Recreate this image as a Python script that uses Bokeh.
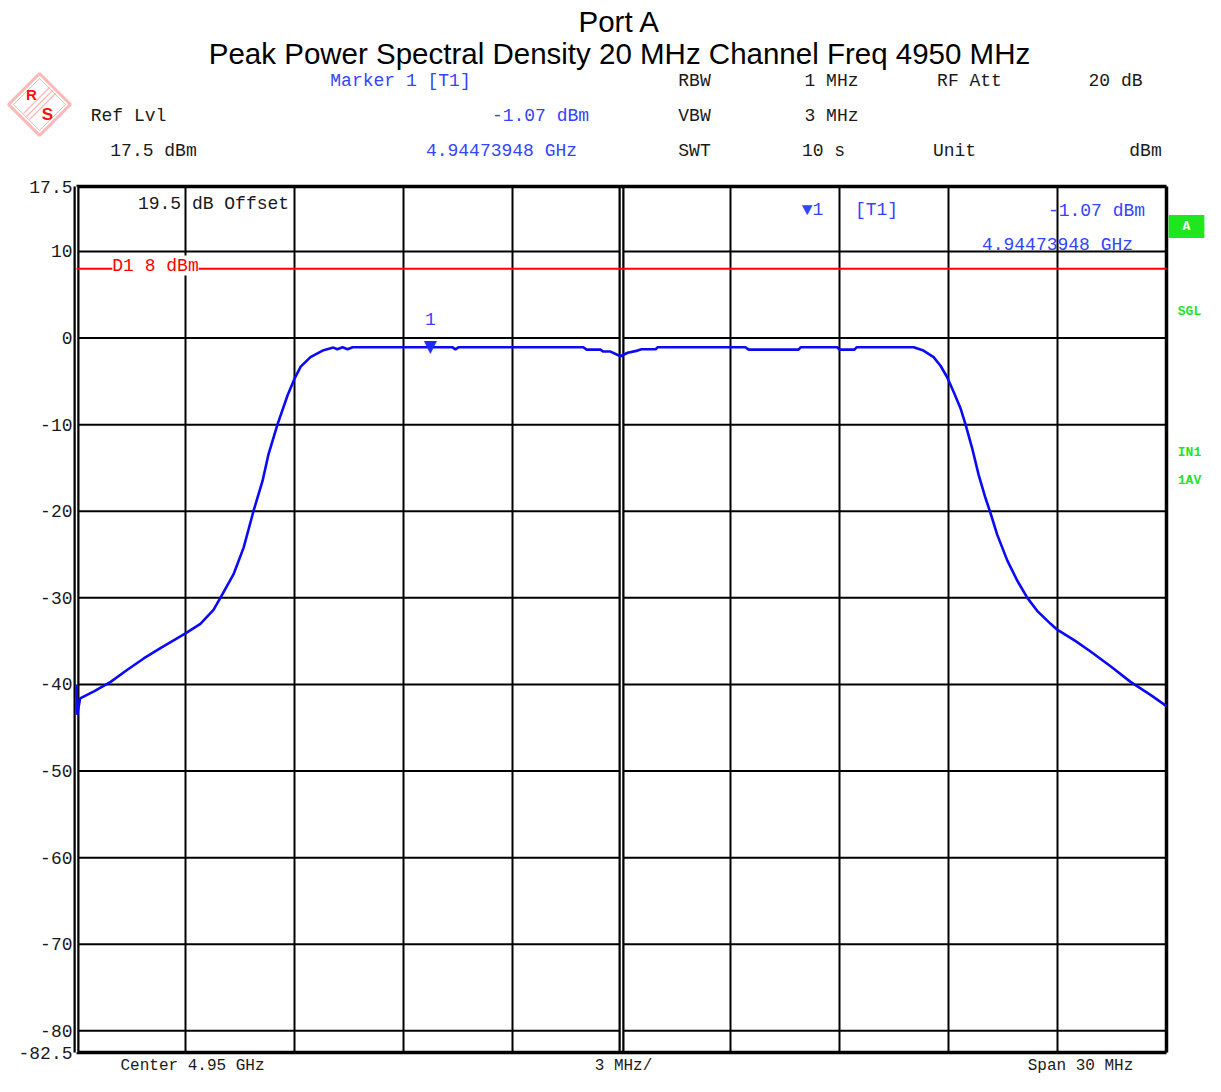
from bokeh.plotting import figure
from bokeh.models import FixedTicker, Label, PolyAnnotation, Range1d
from bokeh.embed import file_html
from bokeh.resources import INLINE
from bokeh.core.properties import value

# ---------------- data ----------------
title_line1 = "Port A"
title_line2 = "Peak Power Spectral Density 20 MHz Channel Freq 4950 MHz"
center_ghz = 4.95
span_mhz = 30
div_mhz = 3
ref_level = 17.5
y_bottom = -82.5
y_grid_levels = [10, 0, -10, -20, -30, -40, -50, -60, -70, -80]
offset_db = 19.5
d1_level = 8
marker_ghz = 4.94473948
marker_dbm = -1.07
rbw = "1 MHz"
vbw = "3 MHz"
swt = "10 s"
rf_att = "20 dB"
unit = "dBm"

# trace: frequency offset from centre (MHz) and level (dBm)
freq_offset_mhz = [
    -15.00, -14.98, -14.95, -14.90, -14.52, -14.06, -13.60, -13.15, -12.69,
    -12.00, -11.59, -11.23, -11.04, -10.68, -10.40, -10.13, -9.88, -9.72,
    -9.47, -9.19, -9.00, -8.83, -8.56, -8.20, -7.93, -7.82, -7.68, -7.54,
    -7.40, -5.26, -4.65, -4.57, -4.49, -1.05, -0.96, -0.58, -0.50, -0.30,
    -0.03, 0.17, 0.44, 0.55, 0.94, 0.99, 3.41, 3.50, 4.87, 4.93, 5.94,
    6.00, 6.41, 6.47, 8.04, 8.31, 8.59, 8.78, 8.96, 9.14, 9.33, 9.47,
    9.65, 9.83, 10.02, 10.14, 10.34, 10.62, 10.89, 11.17, 11.44, 11.81,
    11.97, 12.50, 12.91, 13.46, 14.01, 14.56, 15.00,
]
level_dbm = [
    -40.0, -43.5, -42.8, -41.6, -40.8, -39.7, -38.3, -37.0, -35.8,
    -34.1, -33.0, -31.4, -30.0, -27.3, -24.2, -20.0, -16.5, -13.5,
    -10.0, -6.6, -4.7, -3.3, -2.2, -1.4, -1.1, -1.3, -1.07, -1.3,
    -1.07, -1.07, -1.07, -1.3, -1.07, -1.07, -1.34, -1.34, -1.56, -1.56,
    -2.1, -1.7, -1.45, -1.3, -1.3, -1.07, -1.07, -1.34, -1.34, -1.07, -1.07,
    -1.34, -1.34, -1.07, -1.07, -1.45, -2.2, -3.2, -4.5, -6.2, -8.1, -10.0,
    -12.7, -15.8, -18.5, -20.0, -22.7, -25.7, -28.0, -30.0, -31.5, -33.0,
    -33.6, -35.0, -36.2, -37.9, -39.7, -41.2, -42.5,
]

# ---------------- layout ----------------
W, H = 1205, 1076                 # canvas
FL, FR, FT, FB = 76, 1166, 186, 1052   # diagram area on the canvas (px)
x0, x1 = -span_mhz / 2, span_mhz / 2
y0, y1 = y_bottom, ref_level
sx = (x1 - x0) / (FR - FL)
sy = (y1 - y0) / (FB - FT)

def X(px):
    return x0 + (px - FL) * sx
def Y(py):
    return y1 - (py - FT) * sy

p = figure(
    frame_width=W, frame_height=H,
    x_range=Range1d(X(0), X(W)), y_range=Range1d(Y(H), Y(0)),
    x_axis_location=None, y_axis_location="left",
    toolbar_location=None, output_backend="svg",
    min_border=0, background_fill_color="white", border_fill_color="white",
    outline_line_color=None,
)
p.xgrid.visible = False
p.ygrid.visible = False

# y axis drawn along the diagram's left edge
y_ticks = [ref_level] + y_grid_levels + [y_bottom]
ax = p.yaxis[0]
ax.fixed_location = x0
ax.bounds = (y0, y1)
ax.ticker = FixedTicker(ticks=y_ticks)
ax.major_label_overrides = {float(t): f"{t:g}" for t in y_ticks}
ax.major_tick_in = 0
ax.major_tick_out = 0
ax.minor_tick_in = 0
ax.minor_tick_out = 0
ax.axis_line_color = None
ax.major_label_standoff = 4
ax.major_label_text_font = "Liberation Mono"
ax.major_label_text_font_size = "18px"
ax.major_label_text_color = "#1a1a1a"

# grid
grid_x = [k * div_mhz for k in range(-4, 5) if k != 0]
p.segment(x0=grid_x, y0=[y0] * len(grid_x), x1=grid_x, y1=[y1] * len(grid_x),
          line_color="black", line_width=2)
p.segment(x0=[x0] * len(y_grid_levels), y0=y_grid_levels, x1=[x1] * len(y_grid_levels),
          y1=y_grid_levels, line_color="black", line_width=2)
# double centre line
p.segment(x0=[0], y0=[y0], x1=[0], y1=[y1], line_color="black", line_width=6)
p.segment(x0=[0], y0=[y0], x1=[0], y1=[y1], line_color="white", line_width=1.5)
# diagram border (left edge doubled)
p.segment(x0=[x0, x0, x1], y0=[y1, y0, y0], x1=[x1, x1, x1], y1=[y1, y0, y1],
          line_color="black", line_width=3.5)
p.segment(x0=[x0], y0=[y0], x1=[x0], y1=[y1], line_color="black", line_width=6)
p.segment(x0=[x0], y0=[y0], x1=[x0], y1=[y1], line_color="white", line_width=1.5)

# display line D1
p.segment(x0=[x0], y0=[d1_level], x1=[x1], y1=[d1_level], line_color="#ff0000", line_width=2)

# trace
p.line(freq_offset_mhz, level_dbm, line_color="#0a0af5", line_width=2.6)

# marker
mx = (marker_ghz - center_ghz) * 1000
p.text(x=[mx], y=[marker_dbm], text=["\u25BC"], text_align="center", text_baseline="alphabetic",
       y_offset=-1, text_font=value("DejaVu Sans"), text_font_size="17px", text_color="#1a2cff")
p.text(x=[mx], y=[marker_dbm], text=["1"], text_align="center", text_baseline="middle",
       y_offset=-28, text_font=value("Liberation Mono"), text_font_size="18px", text_color="#3344ff")

BLUE = "#3344ff"
BLACK = "#1a1a1a"
GREEN = "#1fe61f"
MONO = "Liberation Mono"

def lab(px, py, text, color=BLACK, size=18, font=MONO, align="center", bold=False,
        baseline="middle", **kw):
    p.add_layout(Label(x=X(px), y=Y(py), text=text, text_align=align, text_baseline=baseline,
                       text_color=color, text_font_size=f"{size}px", text_font=font,
                       text_font_style="bold" if bold else "normal", **kw))

# titles
lab(619, 21, title_line1, color="black", size=29.5, font="Liberation Sans")
lab(619, 53, title_line2, color="black", size=29.5, font="Liberation Sans")

# header block
lab(400, 80, "Marker 1 [T1]", BLUE)
lab(694, 80, "RBW")
lab(831, 80, rbw)
lab(969, 80, "RF Att")
lab(1115, 80, rf_att)
lab(128, 115, "Ref Lvl")
lab(540, 115, f"{marker_dbm:.2f} dBm", BLUE)
lab(694, 115, "VBW")
lab(831, 115, vbw)
lab(153, 150, f"{ref_level:g} dBm")
lab(501, 150, f"{marker_ghz:.8f} GHz", BLUE)
lab(694, 150, "SWT")
lab(823, 150, swt)
lab(954, 150, "Unit")
lab(1145, 150, unit)

# inside the diagram
lab(213, 203, f"{offset_db:g} dB Offset")
lab(155, 265, f"D1 {d1_level:g} dBm", "#ff0000", background_fill_color="white")
lab(812, 209, "\u25BC1", BLUE)
lab(876, 209, "[T1]", BLUE)
lab(1096, 210, f"{marker_dbm:.2f} dBm", BLUE)
lab(1057, 244, f"{marker_ghz:.8f} GHz", BLUE)

# right-hand status
lab(1186, 226, "A", "white", size=13, bold=True, background_fill_color=GREEN, padding=(14, 4))
lab(1189, 311, "SGL", GREEN, size=13, bold=True)
lab(1189, 452, "IN1", GREEN, size=13, bold=True)
lab(1189, 480, "1AV", GREEN, size=13, bold=True)

# bottom
lab(192, 1065, f"Center {center_ghz:g} GHz", size=16)
lab(623, 1065, f"{div_mhz:g} MHz/", size=16)
lab(1080, 1065, f"Span {span_mhz:g} MHz", size=16)

# logo (R&S style diamond)
RED = "#ff1010"
p.add_layout(PolyAnnotation(xs=[X(8), X(39), X(70), X(39)], ys=[Y(104), Y(73), Y(104), Y(135)],
                            fill_alpha=0, line_color=RED, line_width=3))
p.add_layout(PolyAnnotation(xs=[X(13), X(39), X(65), X(39)], ys=[Y(104), Y(78), Y(104), Y(130)],
                            fill_alpha=0, line_color=RED, line_width=1))
for d in (-3, 0, 3):
    p.add_layout(PolyAnnotation(xs=[X(26 + d), X(52 + d)], ys=[Y(116 + d), Y(90 + d)],
                                fill_alpha=0, line_color=RED, line_width=1.2))
lab(31, 94, "R", RED, size=15, font="Liberation Sans", bold=True)
lab(47, 114, "S", RED, size=17, font="Liberation Sans", bold=True)

open("out.html", "w").write(file_html(p, INLINE))
